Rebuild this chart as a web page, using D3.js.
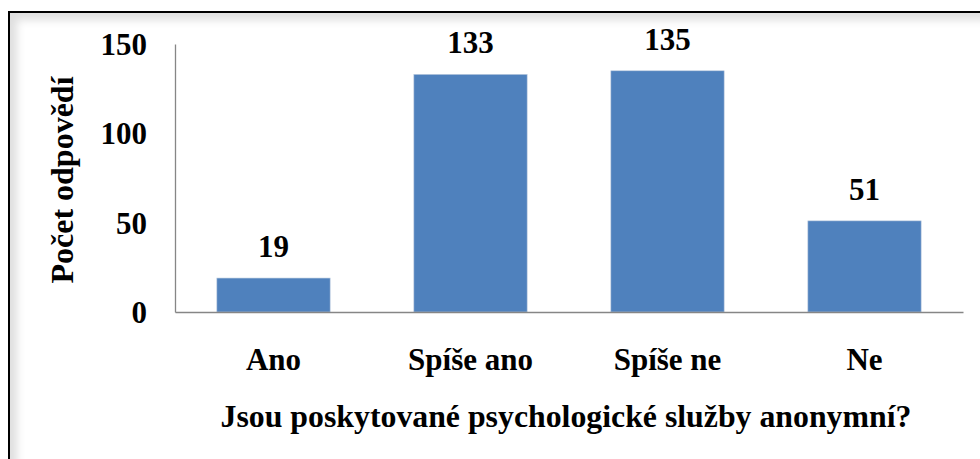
<!DOCTYPE html>
<meta charset="utf-8">
<head>
  <title>Anonymita psychologických služeb</title>
</head>
<script src="https://d3js.org/d3.v7.min.js"></script>
<style>
  body { margin: 0; background: #fff; }
  #frame {
    position: absolute; left: 8px; top: 11px; width: 990px; height: 470px;
    border: 2.5px solid #000;
    box-shadow: inset 7px 7px 9px rgba(0,0,0,0.13);
  }
  #chart { position: absolute; left: 0; top: 0; }
</style>
<div id="frame"></div>
<div id="chart"></div>
<script>
  // data
  var categories = ["Ano", "Spíše ano", "Spíše ne", "Ne"];
  var counts = [19, 133, 135, 51];
  var yTicks = [0, 50, 100, 150];

  var W = 980, H = 459;
  var plot = {left: 175, right: 963, top: 44, bottom: 312};

  var svg = d3.select("#chart")
    .append("svg")
      .attr("width", W)
      .attr("height", H)
      .attr("font-family", "Liberation Serif")
      .attr("font-weight", "bold");

  var x = d3.scaleBand()
    .domain(categories)
    .range([plot.left, plot.right])
    .paddingInner(0.425)
    .paddingOuter(0.2125);

  var y = d3.scaleLinear()
    .domain([0, 150])
    .range([plot.bottom, plot.top]);

  // bars
  svg.append("g")
    .selectAll("rect")
    .data(counts)
    .enter().append("rect")
      .attr("x", function(d, i) { return x(categories[i]); })
      .attr("y", function(d) { return y(d); })
      .attr("width", x.bandwidth())
      .attr("height", function(d) { return y(0) - y(d); })
      .attr("fill", "#4f81bd")
      .attr("stroke", "#b9c9de")
      .attr("stroke-width", 0.6);

  // value labels
  svg.append("g")
    .selectAll("text")
    .data(counts)
    .enter().append("text")
      .attr("x", function(d, i) { return x(categories[i]) + x.bandwidth() / 2; })
      .attr("y", function(d) { return y(d) - 21; })
      .attr("text-anchor", "middle")
      .attr("font-family", "Liberation Serif")
      .attr("font-weight", "bold")
      .attr("font-size", 31)
      .text(function(d) { return d; });

  // y axis
  var yAxis = svg.append("g")
    .attr("transform", "translate(" + plot.left + ",0)")
    .call(d3.axisLeft(y).tickValues(yTicks).tickSize(0).tickPadding(28))
    .attr("font-family", "Liberation Serif")
    .attr("font-size", 31);
  yAxis.select(".domain").attr("stroke", "#868686").attr("stroke-width", 1.3);
  yAxis.selectAll(".tick text")
    .attr("font-family", "Liberation Serif")
    .attr("font-weight", "bold")
    .attr("fill", "#000")
    .attr("dy", "0.34em");

  // x axis
  var xAxis = svg.append("g")
    .attr("transform", "translate(0," + plot.bottom + ")")
    .call(d3.axisBottom(x).tickSize(0).tickPadding(0))
    .attr("font-family", "Liberation Serif")
    .attr("font-size", 31);
  xAxis.select(".domain").attr("stroke", "#868686").attr("stroke-width", 1.3);
  xAxis.selectAll(".tick text")
    .attr("font-family", "Liberation Serif")
    .attr("font-weight", "bold")
    .attr("fill", "#000")
    .attr("dy", null)
    .attr("y", 58);

  // axis titles
  svg.append("text")
    .attr("transform", "translate(73,180) rotate(-90)")
    .attr("text-anchor", "middle")
    .attr("font-family", "Liberation Serif")
    .attr("font-size", 32)
    .text("Počet odpovědí");

  svg.append("text")
    .attr("x", 566)
    .attr("y", 427)
    .attr("text-anchor", "middle")
    .attr("font-family", "Liberation Serif")
    .attr("font-size", 31.8)
    .text("Jsou poskytované psychologické služby anonymní?");
</script>
